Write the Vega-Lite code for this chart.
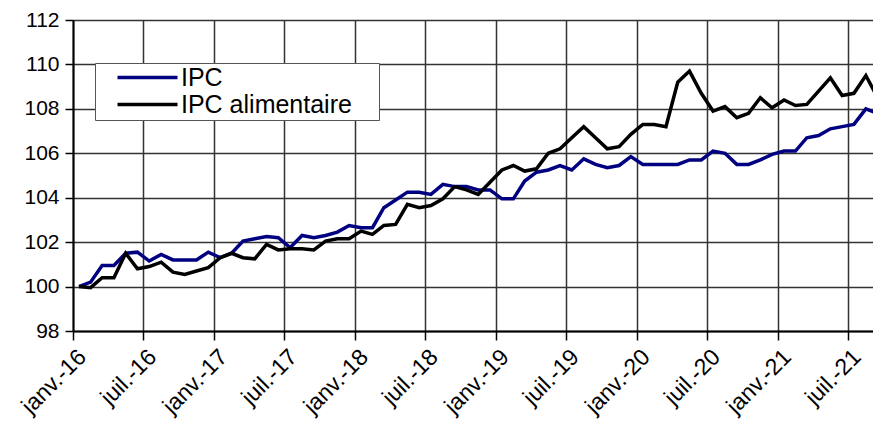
{
  "$schema": "https://vega.github.io/schema/vega-lite/v6.json",
  "width": 800,
  "height": 311,
  "autosize": {"type": "none"},
  "padding": {"left": 73, "top": 20, "right": 0, "bottom": 92},
  "background": "white",
  "config": {
    "font": "Liberation Sans",
    "view": {"stroke": null},
    "axis": {"gridColor": "#333333", "gridWidth": 1.5, "gridOpacity": 1, "domainColor": "#000000", "domainWidth": 2, "tickColor": "#000000", "tickWidth": 1.5, "labelColor": "#000000", "labelFont": "Liberation Sans", "title": null}
  },
  "data": {
    "values": [
      {"mois": "2016-01", "IPC": 100.0, "IPC alimentaire": 100.0},
      {"mois": "2016-02", "IPC": 100.2, "IPC alimentaire": 99.95},
      {"mois": "2016-03", "IPC": 100.95, "IPC alimentaire": 100.4},
      {"mois": "2016-04", "IPC": 100.95, "IPC alimentaire": 100.4},
      {"mois": "2016-05", "IPC": 101.5, "IPC alimentaire": 101.5},
      {"mois": "2016-06", "IPC": 101.55, "IPC alimentaire": 100.8},
      {"mois": "2016-07", "IPC": 101.15, "IPC alimentaire": 100.9},
      {"mois": "2016-08", "IPC": 101.45, "IPC alimentaire": 101.1},
      {"mois": "2016-09", "IPC": 101.2, "IPC alimentaire": 100.65},
      {"mois": "2016-10", "IPC": 101.2, "IPC alimentaire": 100.55},
      {"mois": "2016-11", "IPC": 101.2, "IPC alimentaire": 100.7},
      {"mois": "2016-12", "IPC": 101.55, "IPC alimentaire": 100.85},
      {"mois": "2017-01", "IPC": 101.3, "IPC alimentaire": 101.3},
      {"mois": "2017-02", "IPC": 101.5, "IPC alimentaire": 101.5},
      {"mois": "2017-03", "IPC": 102.05, "IPC alimentaire": 101.3},
      {"mois": "2017-04", "IPC": 102.15, "IPC alimentaire": 101.25},
      {"mois": "2017-05", "IPC": 102.25, "IPC alimentaire": 101.9},
      {"mois": "2017-06", "IPC": 102.2, "IPC alimentaire": 101.65},
      {"mois": "2017-07", "IPC": 101.75, "IPC alimentaire": 101.7},
      {"mois": "2017-08", "IPC": 102.3, "IPC alimentaire": 101.7},
      {"mois": "2017-09", "IPC": 102.2, "IPC alimentaire": 101.65},
      {"mois": "2017-10", "IPC": 102.3, "IPC alimentaire": 102.05},
      {"mois": "2017-11", "IPC": 102.45, "IPC alimentaire": 102.15},
      {"mois": "2017-12", "IPC": 102.75, "IPC alimentaire": 102.15},
      {"mois": "2018-01", "IPC": 102.65, "IPC alimentaire": 102.5},
      {"mois": "2018-02", "IPC": 102.65, "IPC alimentaire": 102.35},
      {"mois": "2018-03", "IPC": 103.55, "IPC alimentaire": 102.75},
      {"mois": "2018-04", "IPC": 103.9, "IPC alimentaire": 102.8},
      {"mois": "2018-05", "IPC": 104.25, "IPC alimentaire": 103.7},
      {"mois": "2018-06", "IPC": 104.25, "IPC alimentaire": 103.55},
      {"mois": "2018-07", "IPC": 104.15, "IPC alimentaire": 103.65},
      {"mois": "2018-08", "IPC": 104.6, "IPC alimentaire": 103.95},
      {"mois": "2018-09", "IPC": 104.5, "IPC alimentaire": 104.5},
      {"mois": "2018-10", "IPC": 104.5, "IPC alimentaire": 104.35},
      {"mois": "2018-11", "IPC": 104.35, "IPC alimentaire": 104.15},
      {"mois": "2018-12", "IPC": 104.35, "IPC alimentaire": 104.7},
      {"mois": "2019-01", "IPC": 103.95, "IPC alimentaire": 105.25},
      {"mois": "2019-02", "IPC": 103.95, "IPC alimentaire": 105.45},
      {"mois": "2019-03", "IPC": 104.75, "IPC alimentaire": 105.2},
      {"mois": "2019-04", "IPC": 105.15, "IPC alimentaire": 105.3},
      {"mois": "2019-05", "IPC": 105.25, "IPC alimentaire": 106.0},
      {"mois": "2019-06", "IPC": 105.45, "IPC alimentaire": 106.2},
      {"mois": "2019-07", "IPC": 105.25, "IPC alimentaire": 106.7},
      {"mois": "2019-08", "IPC": 105.75, "IPC alimentaire": 107.2},
      {"mois": "2019-09", "IPC": 105.5, "IPC alimentaire": 106.7},
      {"mois": "2019-10", "IPC": 105.35, "IPC alimentaire": 106.2},
      {"mois": "2019-11", "IPC": 105.45, "IPC alimentaire": 106.3},
      {"mois": "2019-12", "IPC": 105.85, "IPC alimentaire": 106.85},
      {"mois": "2020-01", "IPC": 105.5, "IPC alimentaire": 107.3},
      {"mois": "2020-02", "IPC": 105.5, "IPC alimentaire": 107.3},
      {"mois": "2020-03", "IPC": 105.5, "IPC alimentaire": 107.2},
      {"mois": "2020-04", "IPC": 105.5, "IPC alimentaire": 109.2},
      {"mois": "2020-05", "IPC": 105.7, "IPC alimentaire": 109.7},
      {"mois": "2020-06", "IPC": 105.7, "IPC alimentaire": 108.7},
      {"mois": "2020-07", "IPC": 106.1, "IPC alimentaire": 107.9},
      {"mois": "2020-08", "IPC": 106.0, "IPC alimentaire": 108.1},
      {"mois": "2020-09", "IPC": 105.5, "IPC alimentaire": 107.6},
      {"mois": "2020-10", "IPC": 105.5, "IPC alimentaire": 107.8},
      {"mois": "2020-11", "IPC": 105.7, "IPC alimentaire": 108.5},
      {"mois": "2020-12", "IPC": 105.95, "IPC alimentaire": 108.05},
      {"mois": "2021-01", "IPC": 106.1, "IPC alimentaire": 108.4},
      {"mois": "2021-02", "IPC": 106.1, "IPC alimentaire": 108.15},
      {"mois": "2021-03", "IPC": 106.7, "IPC alimentaire": 108.2},
      {"mois": "2021-04", "IPC": 106.8, "IPC alimentaire": 108.8},
      {"mois": "2021-05", "IPC": 107.1, "IPC alimentaire": 109.4},
      {"mois": "2021-06", "IPC": 107.2, "IPC alimentaire": 108.6},
      {"mois": "2021-07", "IPC": 107.3, "IPC alimentaire": 108.7},
      {"mois": "2021-08", "IPC": 108.0, "IPC alimentaire": 109.5},
      {"mois": "2021-09", "IPC": 107.8, "IPC alimentaire": 108.5}
    ]
  },
  "transform": [{"fold": ["IPC", "IPC alimentaire"], "as": ["serie", "valeur"]}],
  "mark": {"type": "line", "strokeWidth": 3.5, "clip": true, "strokeJoin": "miter"},
  "encoding": {
    "x": {
      "field": "mois",
      "timeUnit": "utcyearmonth",
      "type": "temporal",
      "bandPosition": 0.5,
      "scale": {"type": "utc", "domain": [{"year": 2016, "month": 1, "date": 1, "utc": true}, {"year": 2021, "month": 9, "date": 4, "utc": true}]},
      "axis": {
        "values": [
          {"year": 2016, "month": 1, "date": 1, "utc": true}, {"year": 2016, "month": 7, "date": 1, "utc": true},
          {"year": 2017, "month": 1, "date": 1, "utc": true}, {"year": 2017, "month": 7, "date": 1, "utc": true},
          {"year": 2018, "month": 1, "date": 1, "utc": true}, {"year": 2018, "month": 7, "date": 1, "utc": true},
          {"year": 2019, "month": 1, "date": 1, "utc": true}, {"year": 2019, "month": 7, "date": 1, "utc": true},
          {"year": 2020, "month": 1, "date": 1, "utc": true}, {"year": 2020, "month": 7, "date": 1, "utc": true},
          {"year": 2021, "month": 1, "date": 1, "utc": true}, {"year": 2021, "month": 7, "date": 1, "utc": true}
        ],
        "labelExpr": "(utcmonth(datum.value) == 0 ? 'janv.-' : 'juil.-') + utcFormat(datum.value, '%y')",
        "labelAngle": -45,
        "labelAlign": "right",
        "labelBaseline": "middle",
        "labelFontSize": 23,
        "labelOffset": 9,
        "labelPadding": 13,
        "tickSize": 9,
        "grid": true,
        "labelFlush": false,
        "labelOverlap": false
      }
    },
    "y": {
      "field": "valeur",
      "type": "quantitative",
      "scale": {"domain": [98, 112], "nice": false, "zero": false},
      "axis": {"values": [98, 100, 102, 104, 106, 108, 110, 112], "labelFontSize": 21, "tickSize": 8, "labelPadding": 6, "grid": true}
    },
    "color": {
      "field": "serie",
      "type": "nominal",
      "scale": {"domain": ["IPC", "IPC alimentaire"], "range": ["#000080", "#000000"]},
      "legend": {
        "title": null,
        "orient": "none",
        "legendX": 22,
        "legendY": 43,
        "fillColor": "white",
        "strokeColor": "#555555",
        "padding": 2,
        "symbolType": "M-3,0H3",
        "symbolSize": 400,
        "symbolStrokeWidth": 3.5,
        "symbolOffset": 38,
        "labelFontSize": 25,
        "labelColor": "#000000",
        "labelOffset": 21,
        "labelLimit": 0,
        "labelExpr": "datum.label + '\u00a0\u2800'",
        "rowPadding": 1
      }
    }
  }
}
